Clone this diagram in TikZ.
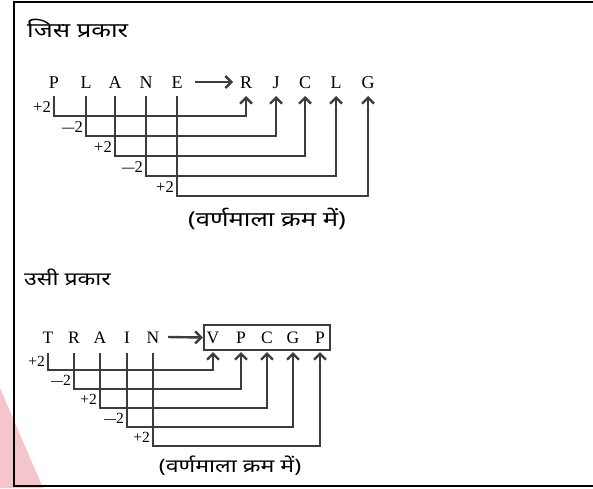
\documentclass[tikz,border=0pt]{standalone}
\usepackage{fontspec}
\usepackage{graphicx}
\setmainfont{Liberation Serif}
\newfontfamily\hindi[Script=Devanagari,FakeStretch=1.25]{Noto Sans}
\usetikzlibrary{arrows.meta}
\definecolor{linegray}{HTML}{3C3C3C}
\definecolor{wmpink}{HTML}{F4C6CC}
\newcommand{\mydash}{\scalebox{1.5}[1]{\textendash}}
\begin{document}
\begin{tikzpicture}[x=1pt,y=-1pt,
  letter/.style={font=\fontsize{18}{18}\selectfont, inner sep=0pt, anchor=base},
  letterb/.style={font=\fontsize{17.5}{17.5}\selectfont, inner sep=0pt, anchor=base},
  conn/.style={draw=linegray, line width=2.4pt},
  tip/.style={-{Straight Barb[length=6pt,width=12pt]}},
  lbl/.style={font=\fontsize{16.5}{16.5}\selectfont, inner sep=1pt, anchor=south east, yshift=2pt, xshift=-2pt},
  lblb/.style={font=\fontsize{15.5}{15.5}\selectfont, inner sep=1pt, anchor=south east, yshift=2pt, xshift=-2pt},
  hinA/.style={font=\hindi\fontsize{20.5}{20.5}\selectfont, inner sep=0pt},
  hinB/.style={font=\hindi\fontsize{18.5}{18.5}\selectfont, inner sep=0pt}
]
\useasboundingbox (0,0) rectangle (593,488);
% watermark fragment
\fill[wmpink] (0,388) -- (0,488) -- (43,488) -- cycle;
% frame
\draw[line width=2.5pt] (593,2) -- (14,2) -- (14,486) -- (593,486);

% ---------- first example ----------
\node[hinA, anchor=west] (h1) at (27,28) {जिस प्रकार};

\node[letter] (a1) at (54,88) {P};
\node[letter] (a2) at (86,88) {L};
\node[letter] (a3) at (115,88) {A};
\node[letter] (a4) at (146,88) {N};
\node[letter] (a5) at (177,88) {E};
\node[letter] (b1) at (246,88) {R};
\node[letter] (b2) at (276,88) {J};
\node[letter] (b3) at (305,88) {C};
\node[letter] (b4) at (336,88) {L};
\node[letter] (b5) at (368,88) {G};

\draw[conn,tip] ([xshift=18pt,yshift=6pt]a5.base) -- ([xshift=-13pt,yshift=6pt]b1.base);

\draw[conn,tip] ([yshift=-8pt]a1.base) -- ++(0,20)  -| ([yshift=-8pt]b1.base);
\draw[conn,tip] ([yshift=-8pt]a2.base) -- ++(0,40)  -| ([yshift=-8pt]b2.base);
\draw[conn,tip] ([yshift=-8pt]a3.base) -- ++(0,60)  -| ([yshift=-8pt]b3.base);
\draw[conn,tip] ([yshift=-8pt]a4.base) -- ++(0,80)  -| ([yshift=-8pt]b4.base);
\draw[conn,tip] ([yshift=-8pt]a5.base) -- ++(0,100) -| ([yshift=-8pt]b5.base);

\node[lbl] (c1) at ([yshift=-28pt]a1.base) {+2};
\node[lbl] (c2) at ([yshift=-48pt]a2.base) {\mydash2};
\node[lbl] (c3) at ([yshift=-68pt]a3.base) {+2};
\node[lbl] (c4) at ([yshift=-88pt]a4.base) {\mydash2};
\node[lbl] (c5) at ([yshift=-108pt]a5.base) {+2};

\node[hinA] (k1) at (267,219) {(वर्णमाला क्रम में)};

% ---------- second example ----------
\node[hinB, anchor=west] (h2) at (24,277) {उसी प्रकार};

\node[letterb] (t1) at (48,343) {T};
\node[letterb] (t2) at (74,343) {R};
\node[letterb] (t3) at (100,343) {A};
\node[letterb] (t4) at (127,343) {I};
\node[letterb] (t5) at (153,343) {N};
\node[letterb] (v1) at (213,343) {V};
\node[letterb] (v2) at (241,343) {P};
\node[letterb] (v3) at (267,343) {C};
\node[letterb] (v4) at (293,343) {G};
\node[letterb] (v5) at (320,343) {P};
\node[draw=linegray, line width=2.2pt, minimum width=126pt, minimum height=25pt, inner sep=0pt] (box) at (267,337.5) {};

\draw[conn,tip] ([xshift=15pt,yshift=6pt]t5.base) -- (box.west);

\draw[conn,tip] ([yshift=-10pt]t1.base) -- ++(0,17) -| ([yshift=-9pt]v1.base);
\draw[conn,tip] ([yshift=-10pt]t2.base) -- ++(0,36) -| ([yshift=-9pt]v2.base);
\draw[conn,tip] ([yshift=-10pt]t3.base) -- ++(0,55) -| ([yshift=-9pt]v3.base);
\draw[conn,tip] ([yshift=-10pt]t4.base) -- ++(0,74) -| ([yshift=-9pt]v4.base);
\draw[conn,tip] ([yshift=-10pt]t5.base) -- ++(0,93) -| ([yshift=-9pt]v5.base);

\node[lblb] (d1) at ([yshift=-27pt]t1.base) {+2};
\node[lblb] (d2) at ([yshift=-46pt]t2.base) {\mydash2};
\node[lblb] (d3) at ([yshift=-65pt]t3.base) {+2};
\node[lblb] (d4) at ([yshift=-84pt]t4.base) {\mydash2};
\node[lblb] (d5) at ([yshift=-103pt]t5.base) {+2};

\node[hinB] (k2) at (230,466) {(वर्णमाला क्रम में)};
\end{tikzpicture}
\end{document}
